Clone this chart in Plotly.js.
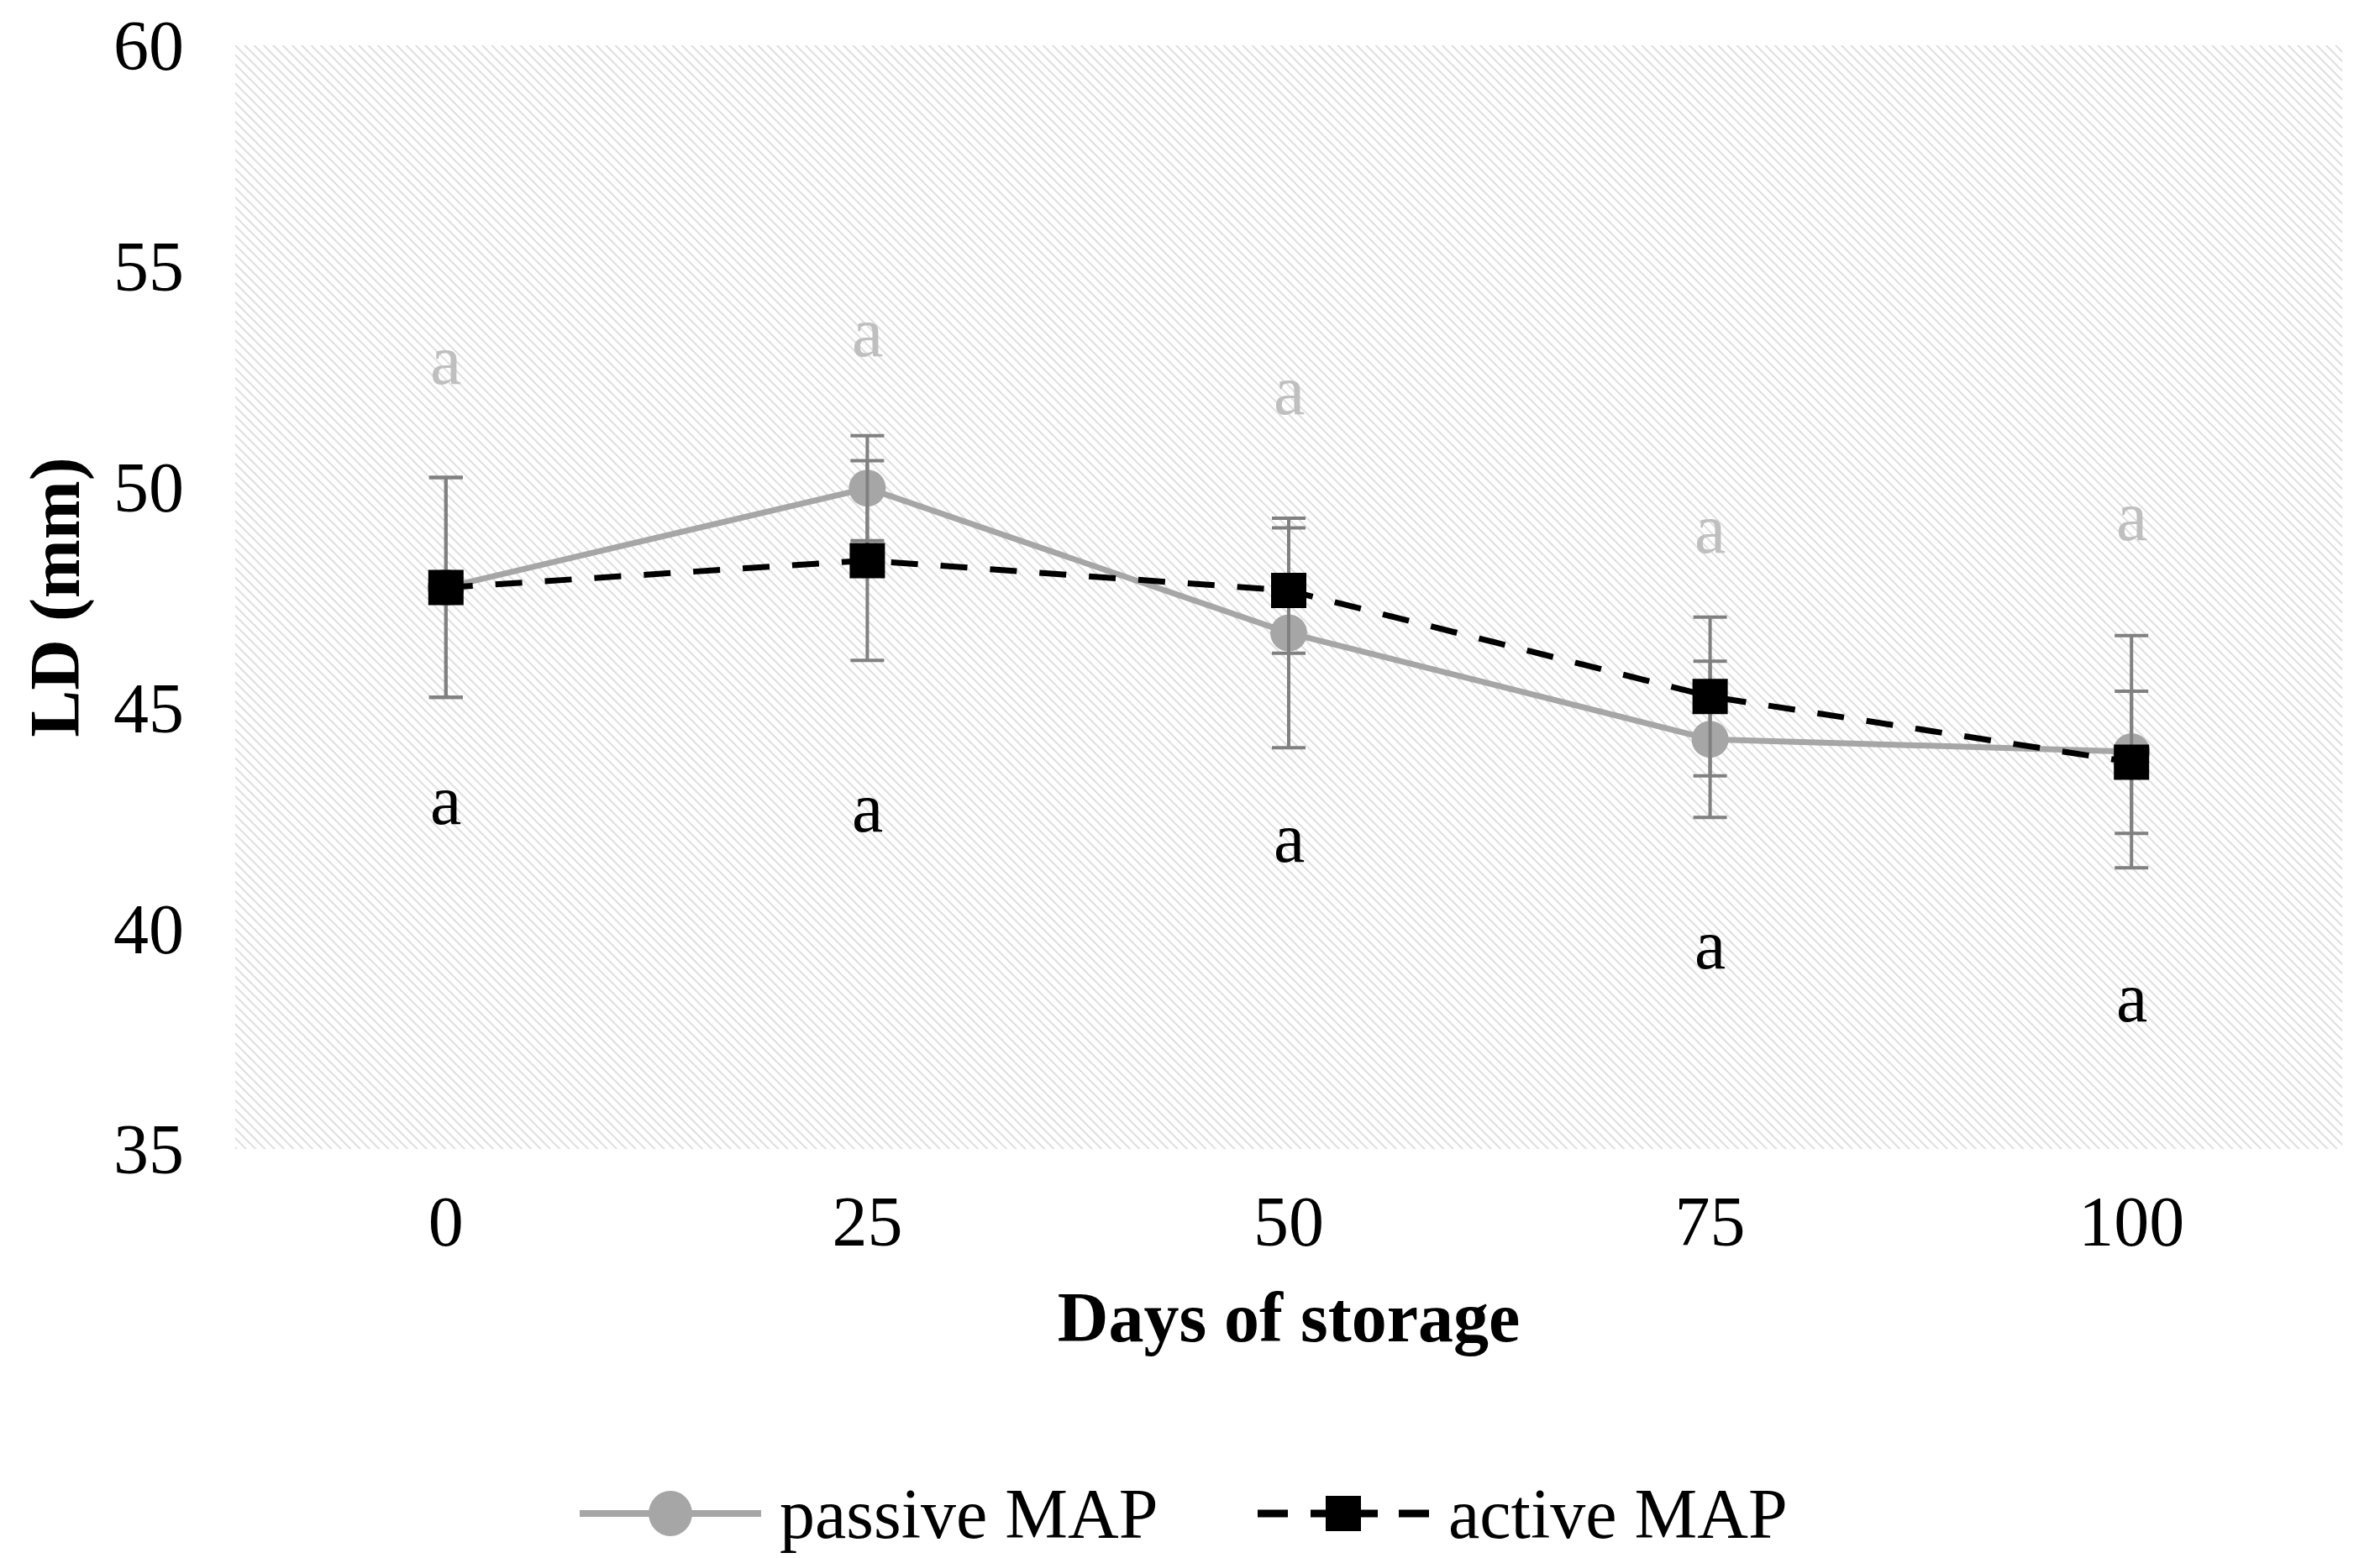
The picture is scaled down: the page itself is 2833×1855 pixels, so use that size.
<!DOCTYPE html>
<html>
<head>
<meta charset="utf-8">
<script src="https://cdn.plot.ly/plotly-3.0.1.min.js"></script>
<style>html,body{margin:0;padding:0;background:#fff;}#chart{width:2833px;height:1855px;}</style>
</head>
<body>
<div id="chart"></div>
<script>
// ---- data ----
const days = [0, 25, 50, 75, 100];
const tickLabels = ['0', '25', '50', '75', '100'];
const passiveMAP = [47.72, 49.97, 46.69, 44.28, 44.0];
const passiveErr = [2.49, 1.19, 2.6, 1.77, 2.63];
const activeMAP = [47.72, 48.33, 47.65, 45.25, 43.76];
const activeErr = [2.49, 2.26, 1.42, 1.8, 1.61];
const passiveLetters = ['a', 'a', 'a', 'a', 'a'];
const passiveLetterY = [52.88, 53.5, 52.19, 49.06, 49.34];
const activeLetters = ['a', 'a', 'a', 'a', 'a'];
const activeLetterY = [42.91, 42.74, 42.05, 39.64, 38.44];
const seriesNames = ['passive MAP', 'active MAP'];

const xRange = [-12.5, 112.5];
const yRange = [35, 60];
const FONT = 'Liberation Serif, Times New Roman, serif';
const FS = 84;
const PASSIVE_COLOR = '#a6a6a6';
const ACTIVE_COLOR = '#000000';

const bg = {
  type: 'bar',
  x: [(xRange[0] + xRange[1]) / 2],
  width: [xRange[1] - xRange[0]],
  base: [yRange[0]],
  y: [yRange[1] - yRange[0]],
  marker: {
    color: '#ffffff',
    line: {width: 0},
    pattern: {shape: '\\', fgcolor: '#d9d9d9', bgcolor: '#ffffff', size: 8, solidity: 0.22}
  },
  showlegend: false,
  hoverinfo: 'skip'
};

const passive = {
  type: 'scatter', mode: 'lines+markers', name: seriesNames[0],
  x: days, y: passiveMAP,
  line: {color: PASSIVE_COLOR, width: 7},
  marker: {symbol: 'circle', size: 44, color: PASSIVE_COLOR},
  error_y: {type: 'data', array: passiveErr, visible: true, color: '#808080', thickness: 4, width: 20},
  showlegend: false
};

const active = {
  type: 'scatter', mode: 'lines+markers', name: seriesNames[1],
  x: days, y: activeMAP,
  line: {color: ACTIVE_COLOR, width: 7, dash: '32px,27px'},
  marker: {symbol: 'square', size: 42, color: ACTIVE_COLOR},
  error_y: {type: 'data', array: activeErr, visible: true, color: '#808080', thickness: 4, width: 20},
  showlegend: false
};

const annotations = [];
days.forEach((d, i) => {
  annotations.push({x: d, y: passiveLetterY[i], xref: 'x', yref: 'y', text: passiveLetters[i],
    showarrow: false, font: {family: FONT, size: FS, color: '#bfbfbf'}});
  annotations.push({x: d, y: activeLetterY[i], xref: 'x', yref: 'y', text: activeLetters[i],
    showarrow: false, font: {family: FONT, size: FS, color: '#000000'}});
});

// ---- custom legend (page pixels -> paper coords) ----
const M = {l: 280, r: 45, t: 54, b: 487};
const W = 2833, H = 1855;
const PW = W - M.l - M.r, PH = H - M.t - M.b;
const px = v => (v - M.l) / PW;
const py = v => (H - M.b - v) / PH;
const legY = 1802;
const shapes = [];
// passive MAP sample
shapes.push({type: 'line', xref: 'paper', yref: 'paper', x0: px(690), x1: px(906), y0: py(legY), y1: py(legY),
  line: {color: PASSIVE_COLOR, width: 8}});
shapes.push({type: 'circle', xref: 'paper', yref: 'paper', xsizemode: 'pixel', ysizemode: 'pixel',
  xanchor: px(798), yanchor: py(legY), x0: -26, x1: 26, y0: -27, y1: 27,
  fillcolor: PASSIVE_COLOR, line: {width: 0}});
// active MAP sample
[[1497, 1533], [1560, 1640], [1665, 1701]].forEach(s => {
  shapes.push({type: 'line', xref: 'paper', yref: 'paper', x0: px(s[0]), x1: px(s[1]), y0: py(legY), y1: py(legY),
    line: {color: ACTIVE_COLOR, width: 9}});
});
shapes.push({type: 'rect', xref: 'paper', yref: 'paper', xsizemode: 'pixel', ysizemode: 'pixel',
  xanchor: px(1599), yanchor: py(legY), x0: -21, x1: 21, y0: -21, y1: 21,
  fillcolor: ACTIVE_COLOR, line: {width: 0}});
annotations.push({xref: 'paper', yref: 'paper', x: px(926), y: py(legY), xanchor: 'left', yanchor: 'middle',
  text: seriesNames[0], showarrow: false, font: {family: FONT, size: FS, color: '#000000'}});
annotations.push({xref: 'paper', yref: 'paper', x: px(1722), y: py(legY), xanchor: 'left', yanchor: 'middle',
  text: seriesNames[1], showarrow: false, font: {family: FONT, size: FS, color: '#000000'}});

const layout = {
  width: W, height: H,
  margin: M,
  paper_bgcolor: '#ffffff', plot_bgcolor: '#ffffff',
  font: {family: FONT, size: FS, color: '#000000'},
  showlegend: false,
  xaxis: {
    range: xRange, tickvals: days, ticktext: tickLabels, showgrid: false, zeroline: false,
    showline: false, ticks: '', ticklabelstandoff: 30,
    tickfont: {family: FONT, size: FS},
    title: {text: '<b>Days of storage</b>', font: {family: FONT, size: FS}, standoff: 38}
  },
  yaxis: {
    range: yRange, tickvals: [35, 40, 45, 50, 55, 60], showgrid: false, zeroline: false,
    showline: false, ticks: '', ticklabelstandoff: 60,
    tickfont: {family: FONT, size: FS},
    title: {text: '<b>LD (mm)</b>', font: {family: FONT, size: FS}, standoff: 12}
  },
  shapes: shapes,
  annotations: annotations
};

Plotly.newPlot('chart', [bg, passive, active], layout, {displayModeBar: false, staticPlot: true});
</script>
</body>
</html>
